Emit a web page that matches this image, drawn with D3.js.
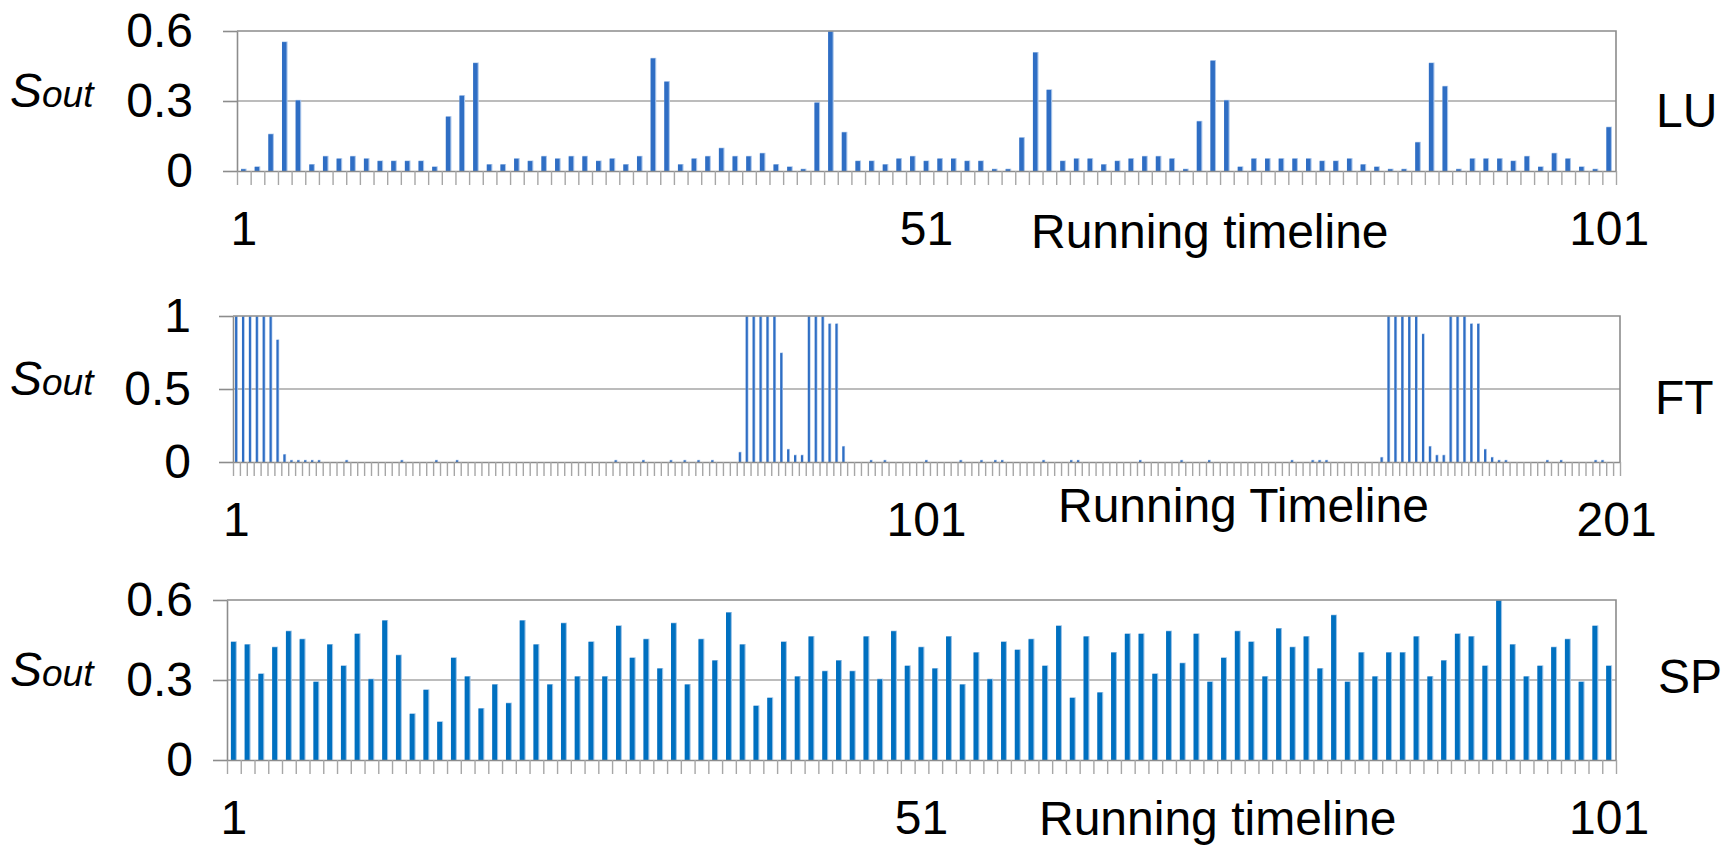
<!DOCTYPE html>
<html>
<head>
<meta charset="utf-8">
<script src="https://cdn.jsdelivr.net/npm/d3@7"></script>
<style>
  html, body { margin: 0; padding: 0; background: #fff; }
  svg { display: block; font-family: Arial, "Liberation Sans", sans-serif; }
</style>
</head>
<body>
<svg id="chart" width="1734" height="848"></svg>
<script>
// ---- LU series: output saliency per time step (101 steps) ----
const luValues = [
  0.01, 0.02, 0.16, 0.555, 0.305, 0.03, 0.065, 0.055, 0.065, 0.055,
  0.045, 0.045, 0.045, 0.045, 0.02, 0.235, 0.325, 0.465, 0.03, 0.03,
  0.055, 0.045, 0.065, 0.055, 0.065, 0.065, 0.045, 0.055, 0.03, 0.065,
  0.485, 0.385, 0.03, 0.055, 0.065, 0.1, 0.065, 0.065, 0.078, 0.03,
  0.02, 0.01, 0.295, 0.6, 0.168, 0.045, 0.045, 0.03, 0.055, 0.065,
  0.045, 0.055, 0.055, 0.045, 0.045, 0.01, 0.01, 0.145, 0.51, 0.35,
  0.045, 0.055, 0.055, 0.03, 0.045, 0.055, 0.065, 0.065, 0.055, 0.01,
  0.215, 0.475, 0.305, 0.02, 0.055, 0.055, 0.055, 0.055, 0.055, 0.045,
  0.045, 0.055, 0.03, 0.02, 0.01, 0.01, 0.125, 0.465, 0.365, 0.01,
  0.055, 0.055, 0.055, 0.045, 0.065, 0.02, 0.078, 0.055, 0.02, 0.01,
  0.19
];

// ---- FT series: output saliency per time step (201 steps) ----
const ftValues = [
  1, 1, 1, 1, 1, 1, 0.84, 0.055, 0.015, 0.015, 0.015, 0.015, 0.015, 0, 0, 0, 0.015, 0, 0, 0,
  0, 0, 0, 0, 0.015, 0, 0, 0, 0, 0.015, 0, 0, 0.015, 0, 0, 0, 0, 0, 0, 0,
  0, 0, 0, 0, 0, 0, 0, 0, 0, 0, 0, 0, 0, 0, 0, 0.015, 0, 0, 0, 0.015,
  0, 0, 0, 0.015, 0, 0.015, 0, 0.015, 0, 0.015, 0, 0, 0, 0.07, 1, 1, 1, 1, 1, 0.75,
  0.09, 0.05, 0.05, 1, 1, 1, 0.95, 0.95, 0.11, 0, 0, 0, 0.015, 0, 0.015, 0, 0, 0, 0, 0,
  0.015, 0, 0, 0, 0, 0.015, 0, 0, 0.015, 0, 0.015, 0.015, 0, 0, 0, 0, 0, 0.015, 0, 0,
  0, 0.015, 0.015, 0, 0, 0, 0, 0, 0, 0, 0, 0.015, 0, 0, 0, 0, 0, 0.015, 0, 0,
  0, 0.015, 0, 0, 0, 0, 0, 0, 0, 0, 0, 0, 0, 0.015, 0, 0, 0.015, 0.015, 0.015, 0,
  0, 0, 0, 0, 0, 0, 0.035, 1, 1, 1, 1, 1, 0.88, 0.11, 0.05, 0.05, 1, 1, 1, 0.95,
  0.95, 0.09, 0.035, 0.015, 0.015, 0, 0, 0, 0, 0, 0.015, 0, 0.015, 0, 0, 0, 0, 0.015, 0.015, 0,
  0
];

// ---- SP series: output saliency per time step (101 steps) ----
const spValues = [
  0.445, 0.435, 0.325, 0.425, 0.485, 0.455, 0.295, 0.435, 0.355, 0.475,
  0.305, 0.525, 0.395, 0.175, 0.265, 0.145, 0.385, 0.315, 0.195, 0.285,
  0.215, 0.525, 0.435, 0.285, 0.515, 0.315, 0.445, 0.315, 0.505, 0.385,
  0.455, 0.345, 0.515, 0.285, 0.455, 0.375, 0.555, 0.435, 0.205, 0.235,
  0.445, 0.315, 0.465, 0.335, 0.375, 0.335, 0.465, 0.305, 0.485, 0.355,
  0.425, 0.345, 0.465, 0.285, 0.405, 0.305, 0.445, 0.415, 0.455, 0.355,
  0.505, 0.235, 0.465, 0.255, 0.405, 0.475, 0.475, 0.325, 0.485, 0.365,
  0.475, 0.295, 0.385, 0.485, 0.445, 0.315, 0.495, 0.425, 0.465, 0.345,
  0.545, 0.295, 0.405, 0.315, 0.405, 0.405, 0.465, 0.315, 0.375, 0.475,
  0.465, 0.355, 0.6, 0.435, 0.315, 0.355, 0.425, 0.455, 0.295, 0.505,
  0.355
];

// Axis ticks and labels
const luYTicks = [0, 0.3, 0.6];
const ftYTicks = [0, 0.5, 1];
const spYTicks = [0, 0.3, 0.6];
const luXLabels = [1, 51, 101];
const ftXLabels = [1, 101, 201];
const spXLabels = [1, 51, 101];
const luTitle = "Running timeline";
const ftTitle = "Running Timeline";
const spTitle = "Running timeline";
const panelNames = ["LU", "FT", "SP"];

// Panel layout (pixel geometry and styling)
const panels = [
  { name: panelNames[0], values: luValues, yTicks: luYTicks, xLabels: luXLabels, title: luTitle,
    left: 237, right: 1616, top: 31, bottom: 171, labelRight: 193,
    barFrac: 0.33, edgeFrac: 0.08, color: "#2f6ec4", edge: "#a9c5ea",
    titleX: 1031, titleY: 248, sideX: 1656, sideY: 110 },
  { name: panelNames[1], values: ftValues, yTicks: ftYTicks, xLabels: ftXLabels, title: ftTitle,
    left: 233, right: 1620, top: 316, bottom: 462, labelRight: 191,
    barFrac: 0.30, edgeFrac: 0.10, color: "#2f6ec4", edge: "#a9c5ea",
    titleX: 1058, titleY: 522, sideX: 1655, sideY: 397 },
  { name: panelNames[2], values: spValues, yTicks: spYTicks, xLabels: spXLabels, title: spTitle,
    left: 227, right: 1616, top: 600, bottom: 760, labelRight: 193,
    barFrac: 0.35, edgeFrac: 0.08, color: "#0070c0", edge: "#9cc3e6",
    titleX: 1039, titleY: 835, sideX: 1658, sideY: 676 }
];

const FONT = 48;
const TICK = 14;
const AXIS_COLOR = "#8c8c8c";
const GRID_COLOR = "#a6a6a6";

const svg = d3.select("#chart");
svg.append("rect").attr("width", 1734).attr("height", 848).attr("fill", "#fff");

panels.forEach(p => {
  const n = p.values.length;
  const categories = d3.range(1, n + 1);
  const g = svg.append("g").attr("class", "panel-" + p.name);

  const x = d3.scaleBand().domain(categories).range([p.left, p.right]).padding(0);
  const xEdge = d3.scaleLinear().domain([0, n]).range([p.left, p.right]);
  const yMax = p.yTicks[p.yTicks.length - 1];
  const y = d3.scaleLinear().domain([0, yMax]).range([p.bottom, p.top]);

  // gridlines (inner ticks)
  g.append("g").selectAll("line")
    .data(p.yTicks.filter(t => t > 0 && t < yMax))
    .join("line")
    .attr("x1", p.left).attr("x2", p.right)
    .attr("y1", d => y(d)).attr("y2", d => y(d))
    .attr("stroke", GRID_COLOR).attr("stroke-width", 1.6);

  // bars: solid body with a pale right-hand edge
  const bw = x.bandwidth();
  const body = bw * p.barFrac;
  const edge = bw * p.edgeFrac;
  const bars = g.append("g").selectAll("g")
    .data(categories.map((c, i) => ({ c, v: p.values[i] })).filter(d => d.v > 0))
    .join("g");
  bars.append("rect")
    .attr("x", d => x(d.c) + bw / 2 - (body + edge) / 2)
    .attr("y", d => y(d.v))
    .attr("width", body + edge)
    .attr("height", d => y(0) - y(d.v))
    .attr("fill", p.edge);
  bars.append("rect")
    .attr("x", d => x(d.c) + bw / 2 - (body + edge) / 2)
    .attr("y", d => Math.min(y(d.v) + 0.6, y(0)))
    .attr("width", body)
    .attr("height", d => Math.max(0, y(0) - y(d.v) - 0.6))
    .attr("fill", p.color);

  // plot area frame (top gridline + right border)
  g.append("path")
    .attr("d", `M${p.left},${p.top}H${p.right}V${p.bottom}`)
    .attr("fill", "none").attr("stroke", AXIS_COLOR).attr("stroke-width", 1.6);

  // category boundary tick marks + baseline
  const xTicks = g.append("g").attr("transform", `translate(0,${p.bottom})`)
    .call(d3.axisBottom(xEdge).tickValues(d3.range(0, n + 1)).tickSize(TICK).tickSizeOuter(0).tickFormat(""));
  xTicks.selectAll("line").attr("stroke", GRID_COLOR).attr("stroke-width", 1.4);
  xTicks.select(".domain").attr("stroke", AXIS_COLOR).attr("stroke-width", 1.6);

  // category labels
  const xLab = g.append("g").attr("transform", `translate(0,${p.bottom})`)
    .call(d3.axisBottom(x).tickValues(p.xLabels).tickSize(0).tickPadding(40));
  xLab.select(".domain").remove();
  xLab.selectAll("text").attr("font-size", FONT).attr("fill", "#000")
    .attr("font-family", "Arial, 'Liberation Sans', sans-serif");

  // value axis
  const yAx = g.append("g").attr("transform", `translate(${p.left},0)`)
    .call(d3.axisLeft(y).tickValues(p.yTicks).tickSize(TICK).tickSizeOuter(0)
      .tickPadding(p.left - TICK - p.labelRight).tickFormat(d => String(d)));
  yAx.selectAll("line").attr("stroke", AXIS_COLOR).attr("stroke-width", 1.6);
  yAx.select(".domain").attr("stroke", AXIS_COLOR).attr("stroke-width", 1.6);
  yAx.selectAll("text").attr("font-size", FONT).attr("fill", "#000")
    .attr("font-family", "Arial, 'Liberation Sans', sans-serif");

  // axis title
  g.append("text")
    .attr("x", p.titleX).attr("y", p.titleY)
    .attr("font-size", FONT).attr("fill", "#000")
    .text(p.title);

  // S_out label
  const mid = p.yTicks[1];
  const s = g.append("text")
    .attr("x", 10).attr("y", y(mid)).attr("dy", "0.35em")
    .attr("font-style", "italic").attr("fill", "#000");
  s.append("tspan").attr("font-size", FONT).text("S");
  s.append("tspan").attr("font-size", 37).text("out");

  // panel name
  g.append("text")
    .attr("x", p.sideX).attr("y", p.sideY).attr("dy", "0.35em")
    .attr("font-size", FONT).attr("fill", "#000")
    .text(p.name);
});
</script>
</body>
</html>
